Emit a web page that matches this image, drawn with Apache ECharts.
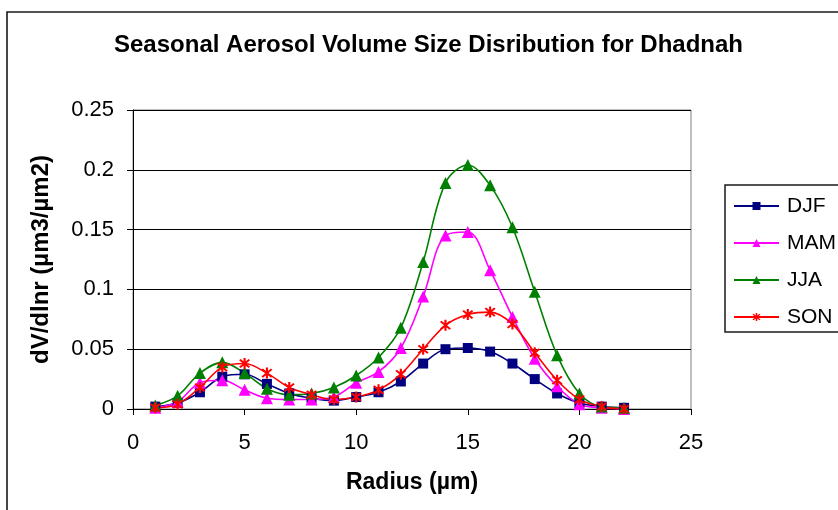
<!DOCTYPE html>
<html>
<head>
<meta charset="utf-8">
<script src="https://cdn.jsdelivr.net/npm/echarts@6/dist/echarts.min.js"></script>
<style>
html,body{margin:0;padding:0;background:#fff;}
#chart{width:838px;height:510px;}
</style>
</head>
<body>
<div id="chart"></div>
<script>
const titleText = 'Seasonal Aerosol Volume Size Disribution for Dhadnah';
const xAxisName = 'Radius (µm)';
const yAxisName = 'dV/dlnr (µm3/µm2)';
const radius = [1,2,3,4,5,6,7,8,9,10,11,12,13,14,15,16,17,18,19,20,21,22];
const seriesNames = ['DJF','MAM','JJA','SON'];
const DJF = [0.002,0.005,0.014,0.027,0.029,0.021,0.013,0.009,0.007,0.010,0.014,0.023,0.038,0.050,0.051,0.048,0.038,0.025,0.013,0.005,0.002,0.001];
const MAM = [0.001,0.006,0.022,0.024,0.016,0.009,0.008,0.008,0.010,0.022,0.031,0.051,0.094,0.145,0.148,0.116,0.077,0.042,0.019,0.004,0.001,0.000];
const JJA = [0.003,0.011,0.030,0.039,0.030,0.017,0.012,0.013,0.018,0.028,0.043,0.068,0.123,0.189,0.204,0.187,0.152,0.098,0.045,0.013,0.002,0.001];
const SON = [0.001,0.004,0.018,0.035,0.038,0.030,0.018,0.012,0.008,0.010,0.016,0.029,0.050,0.070,0.079,0.081,0.071,0.047,0.024,0.008,0.002,0.000];
const xTicks = [0,5,10,15,20,25];
const yTicks = [0,0.05,0.1,0.15,0.2,0.25];

const FONT = '"Liberation Sans", Arial, sans-serif';
const asterisk = 'path://M-0.8,5 L0.8,5 L0.8,-5 L-0.8,-5 Z M2.97,4.11 L4.11,2.97 L-2.97,-4.11 L-4.11,-2.97 Z M4.11,-2.97 L2.97,-4.11 L-4.11,2.97 L-2.97,4.11 Z';

const styles = {
  DJF: {color:'#000080', symbol:'rect', size:10},
  MAM: {color:'#FF00FF', symbol:'triangle', size:12},
  JJA: {color:'#008000', symbol:'triangle', size:12},
  SON: {color:'#FF0000', symbol:asterisk, size:11}
};
const values = {DJF, MAM, JJA, SON};

const chart = echarts.init(document.getElementById('chart'), null, {renderer:'canvas'});
const option = {
  animation: false,
  backgroundColor: '#fff',
  textStyle: {fontFamily: FONT},
  graphic: [
    {type:'rect', shape:{x:7, y:12, width:900, height:600}, style:{fill:'none', stroke:'#1a1a1a', lineWidth:1.6}, z:0},
    {type:'text', x:428.5, y:45, style:{text:titleText, font:'bold 24px ' + FONT, fill:'#000', align:'center', verticalAlign:'middle'}, z:10}
  ],
  grid: {left:133, right:147, top:110, bottom:101, show:true, borderColor:'#808080', borderWidth:1, backgroundColor:'transparent'},
  xAxis: {
    type:'value', min:xTicks[0], max:xTicks[xTicks.length-1], interval:5,
    name:xAxisName, nameLocation:'middle', nameGap:62,
    nameTextStyle:{fontFamily:FONT, fontWeight:'bold', fontSize:23, color:'#000'},
    axisLine:{show:true, onZero:false, lineStyle:{color:'#000', width:1}},
    axisTick:{show:true, length:6, lineStyle:{color:'#000'}},
    axisLabel:{fontFamily:FONT, fontSize:22, color:'#000', margin:23},
    splitLine:{show:false}
  },
  yAxis: {
    type:'value', min:yTicks[0], max:yTicks[yTicks.length-1], interval:0.05,
    name:yAxisName, nameLocation:'middle', nameGap:80, nameRotate:90,
    nameTextStyle:{fontFamily:FONT, fontWeight:'bold', fontSize:24, color:'#000'},
    axisLine:{show:true, lineStyle:{color:'#000', width:1}},
    axisTick:{show:true, length:6, lineStyle:{color:'#000'}},
    axisLabel:{fontFamily:FONT, fontSize:22, color:'#000', margin:19},
    splitLine:{show:true, lineStyle:{color:'#000', width:1}}
  },
  legend: {
    orient:'vertical', left:725, top:185,
    data: seriesNames,
    itemWidth:45, itemHeight:10, itemGap:15,
    padding:[10,40,4,8],
    borderColor:'#1a1a1a', borderWidth:1.5,
    textStyle:{fontFamily:FONT, fontSize:21, color:'#000', lineHeight:22, padding:[0,0,0,3]}
  },
  series: seriesNames.map(n => ({
    name:n, type:'line', smooth:0.35,
    data: radius.map((r,i) => [r, values[n][i]]),
    symbol: styles[n].symbol, symbolSize: styles[n].size,
    showAllSymbol:true,
    lineStyle:{color:styles[n].color, width:1.6},
    itemStyle:{color:styles[n].color, borderWidth:0},
    emphasis:{disabled:true}
  }))
};
chart.setOption(option);
</script>
</body>
</html>
